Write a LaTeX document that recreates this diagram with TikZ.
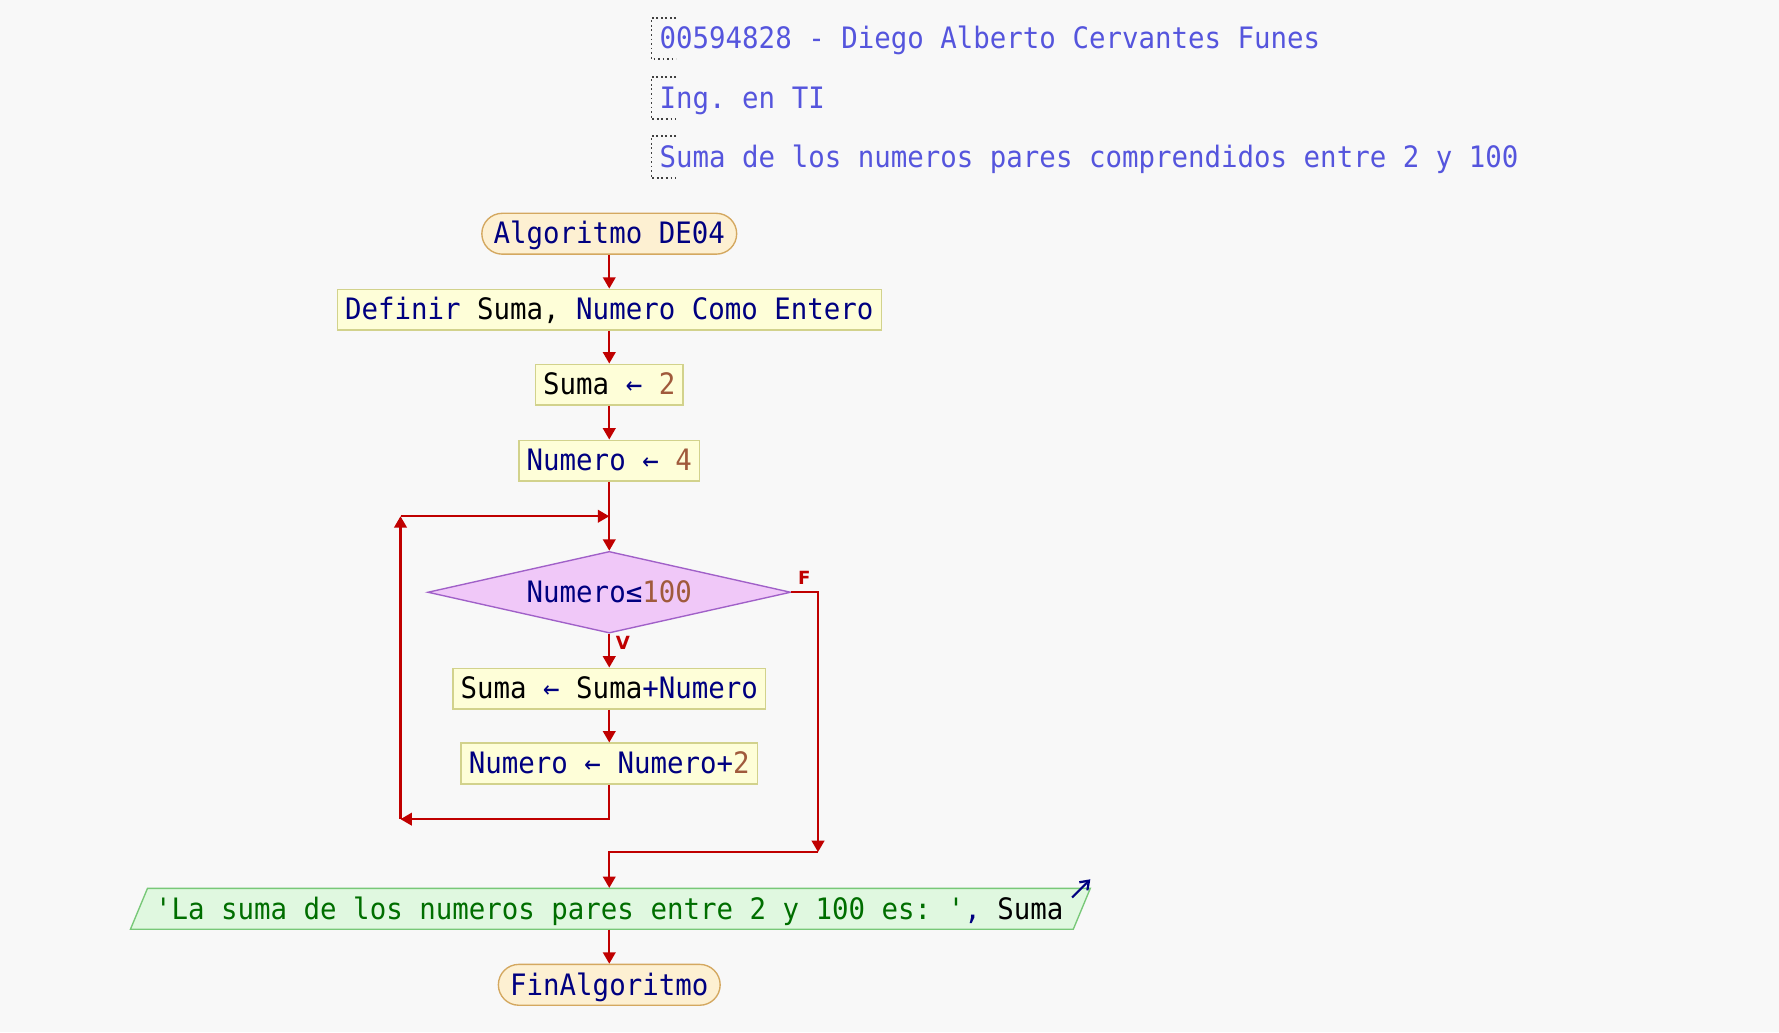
\documentclass[tikz,border=0pt]{standalone}
\usepackage{fontspec}
\usetikzlibrary{shapes.geometric,arrows.meta,calc}
\newfontfamily\monof[FakeStretch=0.93]{DejaVu Sans Mono}
\newfontfamily\labf{DejaVu Sans}
\definecolor{bgc}{HTML}{F8F8F8}
\definecolor{hdr}{HTML}{5555DD}
\definecolor{nv}{HTML}{000080}
\definecolor{numc}{HTML}{A05A3C}
\definecolor{strc}{HTML}{006E00}
\definecolor{arrc}{HTML}{C00000}
\definecolor{termf}{HTML}{FDF0D2}
\definecolor{termd}{HTML}{D4A860}
\definecolor{procf}{HTML}{FEFED8}
\definecolor{procd}{HTML}{D2D28C}
\definecolor{decf}{HTML}{F0C8F8}
\definecolor{decd}{HTML}{A060C8}
\definecolor{outf}{HTML}{E0F8E0}
\definecolor{outd}{HTML}{78C878}
\newcommand\nm[1]{\textcolor{numc}{#1}}
\newcommand\bk[1]{\textcolor{black}{#1}}
\begin{document}
\begin{tikzpicture}[x=0.5pt,y=-0.5pt,
  txt/.style={font=\monof\fontsize{13}{15}\selectfont\frenchspacing, text=nv, text height=10pt, text depth=1pt},
  proc/.style={txt, draw=procd, fill=procf, line width=0.6pt, minimum height=18pt, inner ysep=0pt, inner xsep=3.4pt},
  term/.style={txt, draw=termd, fill=termf, line width=0.6pt, rounded corners=9pt, minimum height=18pt, inner ysep=0pt, inner xsep=5.2pt},
  dec/.style={txt, diamond, draw=decd, fill=decf, line width=0.6pt, minimum width=160pt, minimum height=36pt, inner sep=0pt, aspect=4.4},
  hdrtxt/.style={font=\monof\fontsize{13}{15}\selectfont\frenchspacing, text=hdr, anchor=west, inner sep=0pt, text height=10pt, text depth=1pt},
  brk/.style={dash pattern=on 0.8pt off 1.2pt, draw=black!75, line width=0.6pt},
  arr/.style={draw=arrc, line width=1pt, -{Triangle[length=5pt,width=5.5pt]}},
  lab/.style={font=\labf\bfseries\fontsize{8}{9}\selectfont, text=arrc, inner sep=0pt}]
\useasboundingbox[fill=bgc] (0,0) rectangle (1568,910);
% header comments
\draw[brk] (596,16) -- (574,16) -- (574,52) -- (596,52);
\node[hdrtxt] (h1) at (581,34) {00594828 - Diego Alberto Cervantes Funes};
\draw[brk] (596,68) -- (574,68) -- (574,105) -- (596,105);
\node[hdrtxt] (h2) at (581,87) {Ing. en TI};
\draw[brk] (596,120) -- (574,120) -- (574,157) -- (596,157);
\node[hdrtxt] (h3) at (581,139) {Suma de los numeros pares comprendidos entre 2 y 100};
% nodes
\node[term] (start) at (537,206) {Algoritmo DE04};
\node[proc] (def) at (537,273) {Definir \bk{Suma,} Numero Como Entero};
\node[proc] (s2) at (537,339) {\bk{Suma} ← \nm{2}};
\node[proc] (n4) at (537,406) {Numero ← \nm{4}};
\node[dec] (dc) at (537,522) {Numero≤\nm{100}};
\node[proc] (p1) at (537,607) {\bk{Suma} ← \bk{Suma}+Numero};
\node[proc] (p2) at (537,673) {Numero ← Numero+\nm{2}};
\draw[draw=outd, fill=outf, line width=0.6pt] (130,783) -- (961,783) -- (946,819) -- (115,819) -- cycle;
\node[txt, minimum height=18pt, inner sep=0pt] (out) at (537,801) {\textcolor{strc}{'La suma de los numeros pares entre 2 y 100 es: '}, \bk{Suma}};
\node[term] (fin) at (537,868) {FinAlgoritmo};
% output marker arrow
\coordinate (oa) at (945,791);
\coordinate (ob) at (961,775);
\draw[draw=nv, line width=1pt, -{Straight Barb[length=3.5pt,width=5pt]}] (oa) -- (ob);
% coordinates
\coordinate (lb) at (353,722);
\coordinate (lt) at (353,455);
\coordinate (lj) at (537,455);
\coordinate (rb) at (721,751);
% connectors
\draw[arr] (start.south) -- (def.north);
\draw[arr] (def.south) -- (s2.north);
\draw[arr] (s2.south) -- (n4.north);
\draw[arr] (n4.south) -- (dc.north);
\draw[arr] (dc.south) -- (p1.north);
\draw[arr] (p1.south) -- (p2.north);
\draw[arr] (p2.south) |- (lb);
\draw[arr] (lb) -- (lt);
\draw[arr] (lt) -- (lj);
\draw[arr] (dc.east) -| (rb);
\draw[arr] (rb) -| (out.north);
\draw[arr] (out.south) -- (fin.north);
% labels
\node[lab] (lf) at (709,509) {F};
\node[lab] (lv) at (549,567) {V};
\end{tikzpicture}
\end{document}
